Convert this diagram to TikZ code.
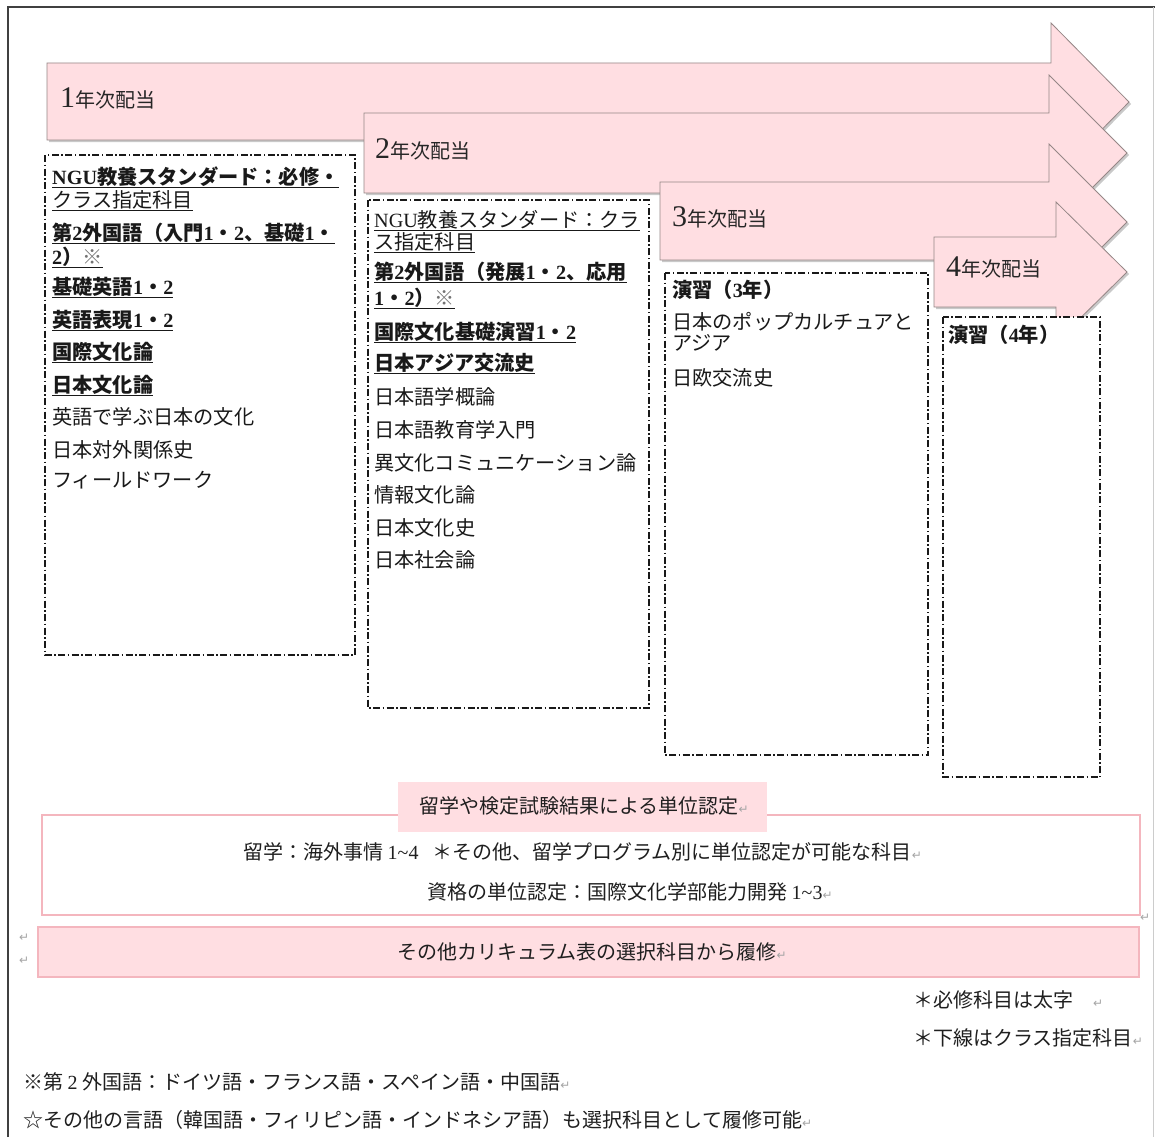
\documentclass[tikz,border=0pt]{standalone}
\usepackage{fontspec}
\setmainfont{Noto Sans CJK JP}
\newfontfamily\tm{Liberation Serif}
\newfontfamily\djv{DejaVu Sans}
\usetikzlibrary{shadows}
\definecolor{pinkfill}{RGB}{255,222,226}
\definecolor{pinkline}{RGB}{244,182,190}
\definecolor{arrline}{RGB}{150,135,135}
\definecolor{pmarkc}{RGB}{165,165,165}
\newcommand\pmk{{\djv\fontsize{12}{12}\selectfont\color{pmarkc}↵}}
\newcommand\kome{{\mdseries\color{black!55}※}}
\begin{document}
\begin{tikzpicture}[x=1pt,y=-1pt,
  arrowshape/.style={fill=pinkfill, draw=arrline, line width=0.8pt,
    drop shadow={shadow xshift=2pt, shadow yshift=-2pt, opacity=0.35, fill=black!60}},
  colbox/.style={draw=black!90, line width=1.2pt, dash pattern=on 7pt off 2.5pt on 1.5pt off 2.5pt, fill=white},
  item/.style={anchor=base west, inner sep=0pt, font=\fontsize{20.2}{22}\selectfont, text=black!90},
  lbl/.style={anchor=base west, inner sep=0pt, text=black!85},
  note/.style={anchor=base west, inner sep=0pt, font=\fontsize{20}{22}\selectfont, text=black!88},
  pm/.style={anchor=base west, inner sep=0pt}]
\useasboundingbox (0,0) rectangle (1155,1137);
\fill[white] (0,0) rectangle (1155,1137);
% outer frame
\draw[black!75, line width=1.5pt] (8,1137) -- (8,7) -- (1155,7);
\draw[black!20, line width=1pt] (1153,7) -- (1153,1137);
% arrows
\path[arrowshape] (47,63) -- (1051,63) -- (1051,23) -- (1129,102) -- (1051,181) -- (1051,140) -- (47,140) -- cycle;
\path[arrowshape] (364,113) -- (1049,113) -- (1049,75) -- (1127,153) -- (1049,231) -- (1049,193) -- (364,193) -- cycle;
\path[arrowshape] (660,182) -- (1049,182) -- (1049,144) -- (1127,222) -- (1049,300) -- (1049,260) -- (660,260) -- cycle;
\path[arrowshape] (934,237) -- (1056,237) -- (1056,202) -- (1127,272) -- (1056,342) -- (1056,307) -- (934,307) -- cycle;
\node[lbl] (y1) at (60,107) {{\tm\fontsize{30}{30}\selectfont 1}{\fontsize{20}{20}\selectfont 年次配当}};
\node[lbl] (y2) at (375,158) {{\tm\fontsize{30}{30}\selectfont 2}{\fontsize{20}{20}\selectfont 年次配当}};
\node[lbl] (y3) at (672,226) {{\tm\fontsize{30}{30}\selectfont 3}{\fontsize{20}{20}\selectfont 年次配当}};
\node[lbl] (y4) at (946,276) {{\tm\fontsize{30}{30}\selectfont 4}{\fontsize{20}{20}\selectfont 年次配当}};
% column boxes
\path[colbox] (45,155) rectangle (355,655);
\path[colbox] (368,200) rectangle (649,708);
\path[colbox] (665,273) rectangle (928,755);
\path[colbox] (943,317) rectangle (1100,777);
% box 1
\node[item] (a1) at (52,184) {\underline{{\tm\bfseries NGU}\bfseries 教養スタンダード：必修・}};
\node[item] (a2) at (52,207) {\underline{クラス指定科目}};
\node[item] (a3) at (52,240) {\underline{\bfseries 第{\tm 2}外国語（入門{\tm 1}・{\tm 2}、基礎{\tm 1}・}};
\node[item] (a4) at (52,264) {\underline{\bfseries {\tm 2}）\kome}};
\node[item] (a5) at (52,294) {\underline{\bfseries 基礎英語{\tm 1}・{\tm 2}}};
\node[item] (a6) at (52,327) {\underline{\bfseries 英語表現{\tm 1}・{\tm 2}}};
\node[item] (a7) at (52,359) {\underline{\bfseries 国際文化論}};
\node[item] (a8) at (52,392) {\underline{\bfseries 日本文化論}};
\node[item] (a9) at (52,424) {英語で学ぶ日本の文化};
\node[item] (a10) at (52,457) {日本対外関係史};
\node[item] (a11) at (52,487) {フィールドワーク};
% box 2
\node[item] (b1) at (374,227) {\underline{{\tm NGU}教養スタンダード：クラ}};
\node[item] (b2) at (374,249) {\underline{ス指定科目}};
\node[item] (b3) at (374,279) {\underline{\bfseries 第{\tm 2}外国語（発展{\tm 1}・{\tm 2}、応用}};
\node[item] (b4) at (374,305) {\underline{\bfseries {\tm 1}・{\tm 2}）\kome}};
\node[item] (b5) at (374,339) {\underline{\bfseries 国際文化基礎演習{\tm 1}・{\tm 2}}};
\node[item] (b6) at (374,370) {\underline{\bfseries 日本アジア交流史}};
\node[item] (b7) at (374,404) {日本語学概論};
\node[item] (b8) at (374,437) {日本語教育学入門};
\node[item] (b9) at (374,470) {異文化コミュニケーション論};
\node[item] (b10) at (374,502) {情報文化論};
\node[item] (b11) at (374,535) {日本文化史};
\node[item] (b12) at (374,567) {日本社会論};
% box 3
\node[item] (c1) at (672,297) {\bfseries 演習（{\tm 3}年）};
\node[item] (c2) at (672,329) {日本のポップカルチュアと};
\node[item] (c3) at (672,350) {アジア};
\node[item] (c4) at (672,385) {日欧交流史};
% box 4
\node[item] (d1) at (948,342) {\bfseries 演習（{\tm 4}年）};
% bottom
\path[draw=pinkline, line width=2pt, fill=white] (42,815) rectangle (1140,915);
\path[fill=pinkfill] (398,782) rectangle (767,832);
\node[note] (e1) at (419,813) {留学や検定試験結果による単位認定\pmk};
\node[note] (e2) at (243,859) {留学：海外事情 {\tm 1\textasciitilde4}\hspace{14pt}＊その他、留学プログラム別に単位認定が可能な科目\pmk};
\node[note] (e3) at (427,899) {資格の単位認定：国際文化学部能力開発 {\tm 1\textasciitilde3}\pmk};
\node[pm] (p1) at (1140,921) {\pmk};
\node[pm] (p2) at (19,941) {\pmk};
\node[pm] (p3) at (19,964) {\pmk};
\path[draw=pinkline, line width=2pt, fill=pinkfill] (38,927) rectangle (1139,977);
\node[note] (f1) at (397,959) {その他カリキュラム表の選択科目から履修\pmk};
\node[note] (g1) at (913,1007) {＊必修科目は太字　\pmk};
\node[note] (g2) at (913,1045) {＊下線はクラス指定科目\pmk};
\node[note] (h1) at (23,1089) {※第 {\tm 2} 外国語：ドイツ語・フランス語・スペイン語・中国語\pmk};
\node[note] (h2) at (23,1127) {☆その他の言語（韓国語・フィリピン語・インドネシア語）も選択科目として履修可能\pmk};
\end{tikzpicture}
\end{document}
